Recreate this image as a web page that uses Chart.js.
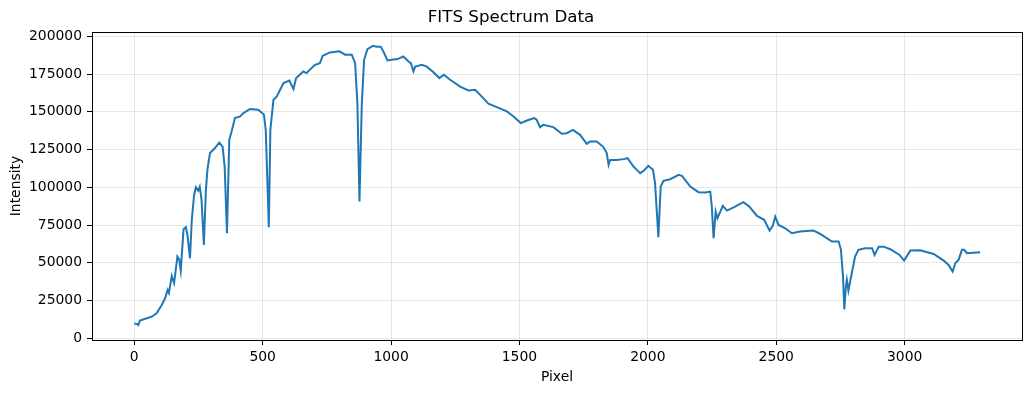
<!DOCTYPE html>
<html>
<head>
<meta charset="utf-8">
<script src="https://cdn.jsdelivr.net/npm/chart.js@4"></script>
<style>
  html, body { margin: 0; padding: 0; background: #fff; }
  #wrap { width: 1031px; height: 393px; position: relative; }
</style>
</head>
<body>
<div id="wrap"><canvas id="chart"></canvas></div>
<script>
// values
const pixelX = [
  0, 10, 16, 22, 40, 68, 87, 107, 120, 130, 135, 146, 155, 168, 175, 181, 192, 201, 207, 217,
  224, 233, 240, 249, 255, 262, 271, 279, 285, 295, 314, 331, 344, 352, 361, 370, 379, 392, 412, 425,
  451, 483, 500, 505, 512, 524, 530, 542, 555, 568, 581, 604, 620, 630, 658, 671, 684, 704, 723, 734,
  762, 799, 821, 847, 860, 869, 877, 886, 895, 908, 929, 944, 960, 973, 986, 1003, 1025, 1048, 1072, 1077,
  1087, 1094, 1120, 1139, 1162, 1188, 1206, 1230, 1269, 1301, 1327, 1347, 1379, 1412, 1451, 1477, 1505, 1529, 1557, 1567,
  1580, 1593, 1632, 1665, 1684, 1708, 1736, 1762, 1775, 1801, 1827, 1840, 1847, 1853, 1879, 1905, 1921, 1944, 1957, 1970,
  1985, 2002, 2020, 2028, 2041, 2050, 2061, 2087, 2120, 2133, 2165, 2197, 2223, 2243, 2249, 2256, 2264, 2271, 2292, 2308,
  2334, 2372, 2395, 2425, 2453, 2474, 2486, 2496, 2509, 2535, 2561, 2593, 2645, 2671, 2717, 2743, 2752, 2760, 2765, 2771,
  2775, 2781, 2794, 2807, 2820, 2846, 2873, 2883, 2899, 2918, 2944, 2980, 2998, 3022, 3061, 3113, 3152, 3171, 3187, 3197,
  3210, 3223, 3232, 3243, 3294
];
const intensity = [
  9800, 9500, 8800, 11800, 12800, 14300, 16600, 22100, 26500, 32000, 30000, 41300, 36500, 54100, 52300, 44800, 72300, 73600, 68600, 53000,
  78400, 95000, 100100, 97900, 100500, 91700, 61900, 98300, 112000, 122700, 126000, 129700, 127000, 113800, 69600, 131500, 137000, 145900, 147000, 149200,
  151900, 151400, 149000, 148100, 138000, 73600, 138100, 158000, 160200, 164700, 169100, 170800, 165100, 172300, 176800, 175700, 178000, 181200, 182300, 187200,
  189400, 190100, 187900, 187900, 182400, 155000, 90600, 155000, 184500, 191600, 193800, 193100, 193100, 189000, 184100, 184500, 185000, 186700, 182800, 182400,
  176800, 180000, 181200, 180000, 176800, 172400, 174600, 171300, 166800, 164200, 164600, 161300, 155400, 153200, 150300, 147000, 142600, 144300, 145900, 144800,
  139900, 141400, 139900, 135500, 135900, 138100, 134800, 128800, 130400, 130400, 126700, 122700, 114900, 118200, 118200, 118700, 119300, 113800, 111600, 109400,
  111200, 114300, 111600, 102800, 67000, 100500, 104300, 105400, 108300, 107600, 100500, 96800, 96600, 97200, 87200, 66300, 84000, 79600, 87700, 84600,
  86800, 90200, 87300, 81100, 78500, 71400, 74300, 80600, 75100, 72900, 69600, 70700, 71400, 69200, 64100, 64100, 58600, 40900, 19200, 34200,
  38700, 31600, 43100, 54100, 58600, 59700, 59700, 55200, 60700, 60700, 59000, 55200, 51500, 58100, 58300, 55900, 51500, 48600, 44200, 49700,
  51900, 58600, 58600, 56400, 57000
];

const xTicks = [0, 500, 1000, 1500, 2000, 2500, 3000];
const yTicks = [0, 25000, 50000, 75000, 100000, 125000, 150000, 175000, 200000];

const points = pixelX.map((x, i) => ({ x: x, y: intensity[i] }));

const FONT = "'DejaVu Sans', sans-serif";
Chart.defaults.color = "#000";
Chart.defaults.font.family = FONT;

// black frame round the plot area, like the reference
const framePlugin = {
  id: "frame",
  afterDraw(chart) {
    const { ctx, chartArea: a } = chart;
    ctx.save();
    ctx.strokeStyle = "#000";
    ctx.lineWidth = 1;
    ctx.strokeRect(Math.round(a.left) + 0.5, Math.round(a.top) + 0.5,
      Math.round(a.right - a.left), Math.round(a.bottom - a.top));
    ctx.restore();
  },
};

const grid = {
  color: "rgba(176, 176, 176, 0.3)",
  tickColor: "#000",
  tickLength: 5,
};

new Chart(document.getElementById("chart"), {
  type: "line",
  data: {
    datasets: [{
      label: "Spectrum",
      data: points,
      borderColor: "#1f77b4",
      borderWidth: 2,
      pointRadius: 0,
      tension: 0,
      fill: false,
    }],
  },
  options: {
    responsive: true,
    maintainAspectRatio: false,
    animation: false,
    layout: {
      padding: { left: 0, right: 9, top: 0, bottom: 0 },
    },
    plugins: {
      legend: { display: false },
      tooltip: { enabled: false },
      title: {
        display: true,
        text: "FITS Spectrum Data",
        color: "#000",
        font: { family: FONT, size: 16.7, weight: "normal" },
        padding: { top: 8, bottom: 4 },
      },
    },
    scales: {
      x: {
        type: "linear",
        min: -164.6,
        max: 3457,
        afterFit: (scale) => { scale.height = 53; },
        afterBuildTicks: (scale) => {
          scale.ticks = xTicks.map((v) => ({ value: v }));
        },
        ticks: {
          padding: 4,
          maxRotation: 0,
          autoSkip: false,
          font: { size: 13.9 },
          callback: (v) => String(v),
        },
        grid: grid,
        border: { color: "#000" },
        title: {
          display: true,
          text: "Pixel",
          font: { size: 13.9 },
          padding: { top: 0, bottom: 7 },
        },
      },
      y: {
        type: "linear",
        min: -1130,
        max: 202900,
        afterFit: (scale) => { scale.width = 92; },
        afterBuildTicks: (scale) => {
          scale.ticks = yTicks.map((v) => ({ value: v }));
        },
        ticks: {
          padding: 5,
          autoSkip: false,
          font: { size: 13.9 },
          callback: (v) => String(v),
        },
        grid: grid,
        border: { color: "#000" },
        title: {
          display: true,
          text: "Intensity",
          font: { size: 13.9 },
          padding: { top: 8, bottom: 0 },
        },
      },
    },
  },
  plugins: [framePlugin],
});
</script>
</body>
</html>
